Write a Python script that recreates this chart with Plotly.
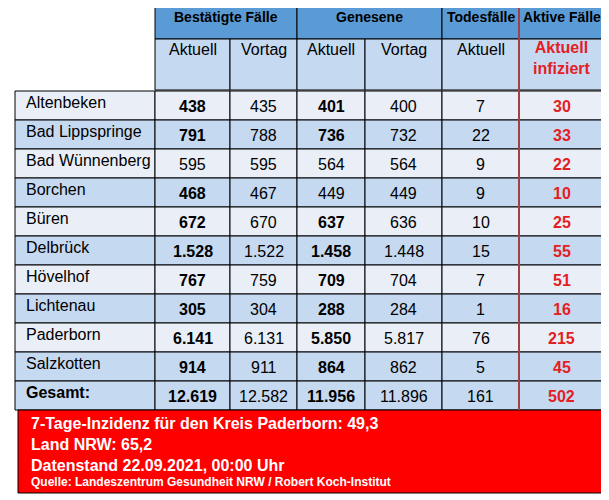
import plotly.graph_objects as go

orte = ["Altenbeken", "Bad Lippspringe", "Bad Wünnenberg", "Borchen", "Büren",
        "Delbrück", "Hövelhof", "Lichtenau", "Paderborn", "Salzkotten", "Gesamt:"]
best_akt = ["438", "791", "595", "468", "672", "1.528", "767", "305", "6.141", "914", "12.619"]
best_vor = ["435", "788", "595", "467", "670", "1.522", "759", "304", "6.131", "911", "12.582"]
gen_akt = ["401", "736", "564", "449", "637", "1.458", "709", "288", "5.850", "864", "11.956"]
gen_vor = ["400", "732", "564", "449", "636", "1.448", "704", "284", "5.817", "862", "11.896"]
tod_akt = ["7", "22", "9", "9", "10", "15", "7", "1", "76", "5", "161"]
aktiv = ["30", "33", "22", "10", "25", "55", "51", "16", "215", "45", "502"]
# which cells in the Aktuell columns are bold
bold_best = [True, True, False, True, True, True, True, True, True, True, True]
bold_gen = [True, True, False, False, True, True, True, True, True, True, True]

gruppen = ["Bestätigte Fälle", "Genesene", "Todesfälle", "Aktive Fälle"]
unterkopf = ["Aktuell", "Vortag", "Aktuell", "Vortag", "Aktuell", "Aktuell<br>infiziert"]
info = ["7-Tage-Inzidenz für den Kreis Paderborn: 49,3", "Land NRW: 65,2",
        "Datenstand 22.09.2021, 00:00 Uhr"]
quelle = "Quelle: Landeszentrum Gesundheit NRW / Robert Koch-Institut"

FONT = "Liberation Sans, Arial"
DARK = "#5B9BD5"
LIGHT = "#C5D9F1"
PALE = "#E9EEF7"

xe = [155, 230, 297, 365, 442, 519, 604]
grp_span = [(0, 2), (2, 4), (4, 5), (5, 6)]
row_top = 91
row_h = 29

shapes, ann = [], []

def rect(x0, y0, x1, y1, fill, line="black", w=1):
    shapes.append(dict(type="rect", x0=x0, y0=y0, x1=x1, y1=y1, fillcolor=fill,
                       line=dict(color=line, width=w), layer="below"))

def txt(x, y, s, size=16, color="black", bold=False, anchor="center"):
    ann.append(dict(x=x, y=y, text=f"<b>{s}</b>" if bold else s, showarrow=False,
                    xanchor=anchor, yanchor="middle",
                    font=dict(family=FONT, size=size, color=color)))

# header
for g, (a, b) in zip(gruppen, grp_span):
    rect(xe[a], 5, xe[b], 39, DARK)
    txt((xe[a] + xe[b]) / 2, 17, g, size=14, bold=True)
for i, s in enumerate(unterkopf):
    rect(xe[i], 39, xe[i + 1], 90, LIGHT)
    if i == 5:
        txt((xe[i] + xe[i + 1]) / 2, 58, s, size=16, color="#E31E24", bold=True)
    else:
        txt((xe[i] + xe[i + 1]) / 2, 49, s, size=16)

# body
cols = [best_akt, best_vor, gen_akt, gen_vor, tod_akt, aktiv]
for r, ort in enumerate(orte):
    y0 = row_top + r * row_h
    y1 = y0 + row_h
    last = r == len(orte) - 1
    fill = LIGHT if (r % 2 == 1 or last) else PALE
    rect(15, y0, xe[0], y1, fill)
    txt(24, y0 + 11, ort, size=16, bold=last, anchor="left")
    for c, col in enumerate(cols):
        rect(xe[c], y0, xe[c + 1], y1, fill)
        bold = (c == 0 and bold_best[r]) or (c == 2 and bold_gen[r]) or c == 5 or (last and c in (0, 2))
        color = "#E31E24" if c == 5 else "black"
        txt((xe[c] + xe[c + 1]) / 2, y0 + 15, col[r], size=16, color=color, bold=bold)

# red line at Aktive column
shapes.append(dict(type="line", x0=xe[5], x1=xe[5], y0=5, y1=row_top + len(orte) * row_h,
                   line=dict(color="#A0404A", width=2)))

# info box
box_top = row_top + len(orte) * row_h
rect(18, box_top, 604, 493, "#FF0000")
for i, s in enumerate(info):
    txt(29, box_top + 13 + i * 21, s, size=16, color="white", bold=True, anchor="left")
txt(29, box_top + 72, quelle, size=12, color="white", bold=True, anchor="left")

# the page body has an 8px margin, so the figure is shifted by 8px
fig = go.Figure()
fig.update_layout(width=601, height=492, margin=dict(l=0, r=0, t=0, b=0),
                  paper_bgcolor="white", plot_bgcolor="white",
                  shapes=shapes, annotations=ann, showlegend=False)
fig.update_xaxes(range=[8, 609], visible=False, fixedrange=True)
fig.update_yaxes(range=[500, 8], visible=False, fixedrange=True)
fig.write_html("out.html")
